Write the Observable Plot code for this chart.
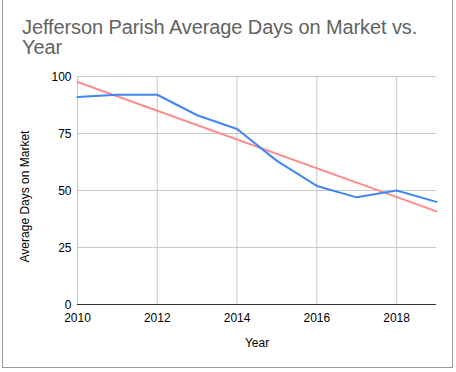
<!DOCTYPE html>
<html>
<head>
<meta charset="utf-8">
<script src="https://cdn.jsdelivr.net/npm/d3@7"></script>
<script src="https://cdn.jsdelivr.net/npm/@observablehq/plot@0.6"></script>
<style>
  html, body { margin: 0; padding: 0; background: #fff; }
  #wrap { position: relative; width: 456px; height: 372px; overflow: hidden; font-family: "Liberation Sans", Arial, sans-serif; }
  #frame { position: absolute; left: 2px; top: -2px; width: 451px; height: 370px; border: 1px solid #9a9a9a; box-sizing: border-box; }
  #title { position: absolute; left: 22px; top: 17px; font-size: 20px; line-height: 20px; color: #626262; letter-spacing: -0.1px; }
  #chart { position: absolute; left: 0; top: 0; }
  #chart svg { overflow: visible; }
</style>
</head>
<body>
<div id="wrap">
  <div id="frame"></div>
  <div id="title">Jefferson Parish Average Days on Market vs.<br>Year</div>
  <div id="chart"></div>
</div>
<script>
const years = [2010, 2011, 2012, 2013, 2014, 2015, 2016, 2017, 2018, 2019];
const days = [91, 92, 92, 83, 77, 63, 52, 47, 50, 45];
const xTicks = [2010, 2012, 2014, 2016, 2018];
const yTicks = [0, 25, 50, 75, 100];
const xLabel = "Year";
const yLabel = "Average Days on Market";

const data = years.map((y, i) => ({year: y, days: days[i]}));

const chart = Plot.plot({
  width: 456,
  height: 372,
  marginTop: 76,
  marginBottom: 68,
  marginLeft: 77,
  marginRight: 20,
  style: {fontFamily: "Liberation Sans, Arial, sans-serif", fontSize: "12px", color: "#000", background: "transparent"},
  x: {domain: [2010, 2019], label: null},
  y: {domain: [0, 100], label: null},
  marks: [
    Plot.gridX(xTicks, {stroke: "#c8c8c8", strokeOpacity: 1, strokeWidth: 1}),
    Plot.gridY(yTicks.filter(d => d > 0), {stroke: "#c8c8c8", strokeOpacity: 1, strokeWidth: 1}),
    Plot.axisX(xTicks, {tickSize: 0, tickPadding: 9, fontSize: 12, fill: "#000", tickFormat: d => String(d)}),
    Plot.axisY(yTicks, {tickSize: 0, tickPadding: 6, fontSize: 12, fill: "#000", dy: 1}),
    Plot.ruleY([0], {stroke: "#333", strokeWidth: 1}),
    Plot.linearRegressionY(data, {x: "year", y: "days", stroke: "#ff8c8c", strokeWidth: 2, ci: 0}),
    Plot.line(data, {x: "year", y: "days", stroke: "#4285f4", strokeWidth: 2}),
    Plot.text([xLabel], {frameAnchor: "bottom", dy: 42, fontSize: 12, fill: "#000"}),
    Plot.text([yLabel], {frameAnchor: "left", textAnchor: "middle", dx: -52, dy: 6, rotate: -90, fontSize: 12, fill: "#000"})
  ]
});
document.getElementById("chart").appendChild(chart);
</script>
</body>
</html>
